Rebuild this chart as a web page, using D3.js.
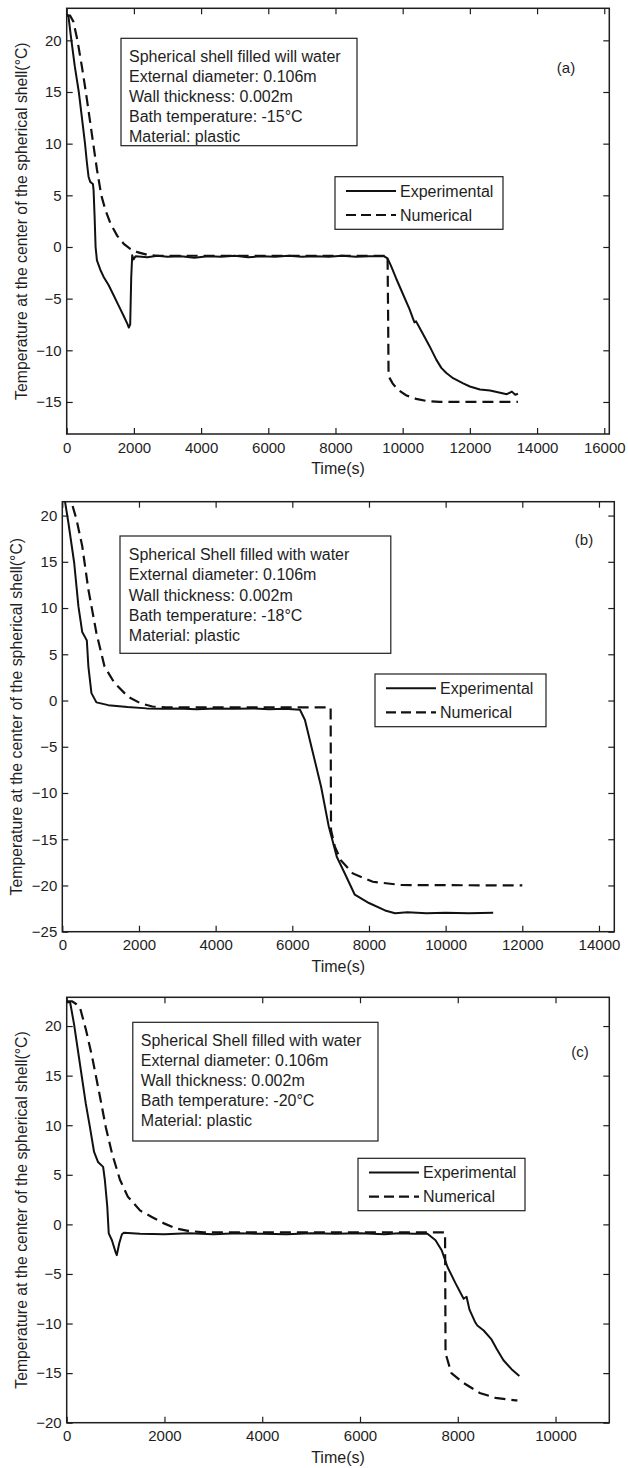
<!DOCTYPE html>
<html lang="en">
<head>
<meta charset="utf-8">
<title>Temperature at the center of the spherical shell</title>
<script src="https://cdn.jsdelivr.net/npm/d3@7"></script>
<style>
  body { margin: 0; background: #fff; }
  svg text { font-family: "Liberation Sans", Arial, sans-serif; fill: #1e1e1e; }
</style>
</head>
<body>
<svg id="chart" width="628" height="1468"></svg>
<script>

// ---- data: [time (s), temperature (°C)] ----

var expA = [[0,22.5],[50,22.4],[120,20.5],[240,17.5],[360,15],[450,12.6],[545,10],[600,8.2],[650,6.8],[700,6.3],[780,6.1],[800,5.5],[830,3],[860,0],[900,-1.3],[1000,-2.2],[1100,-2.9],[1250,-3.7],[1400,-4.7],[1550,-5.7],[1700,-6.7],[1800,-7.4],[1850,-7.8],[1890,-7.5],[1920,-3],[1950,-0.8],[1990,-1.2],[2050,-0.9],[2400,-1.0],[2700,-0.85],[3000,-0.95],[3400,-0.9],[3800,-1.05],[4200,-0.9],[4600,-0.95],[5000,-0.85],[5400,-1.0],[5800,-0.9],[6200,-0.95],[6600,-0.85],[7000,-0.95],[7400,-0.9],[7800,-0.95],[8200,-0.85],[8600,-0.95],[9000,-0.9],[9450,-0.9],[9550,-1.1],[9650,-1.8],[9800,-3],[10000,-4.5],[10200,-6],[10350,-7.3],[10400,-7.2],[10450,-7.5],[10600,-8.4],[10800,-9.6],[11000,-10.9],[11150,-11.7],[11300,-12.2],[11500,-12.7],[11800,-13.2],[12000,-13.5],[12300,-13.8],[12600,-13.9],[12900,-14.1],[13100,-14.25],[13250,-14.0],[13350,-14.3],[13430,-14.2]];
var numA = [[0,22.4],[100,22.4],[200,21.8],[320,20],[450,17.5],[570,15],[680,12.5],[790,10],[900,7.5],[1030,5],[1150,3.6],[1300,2.3],[1500,1.1],[1700,0.3],[1900,-0.2],[2100,-0.5],[2400,-0.75],[2700,-0.85],[9550,-0.85],[9565,-6],[9580,-12.5],[9700,-13.2],[9850,-13.8],[10100,-14.35],[10400,-14.7],[10700,-14.9],[11100,-15],[13430,-15]];

var expB = [[0,22],[60,21.8],[160,19.2],[310,14.9],[420,10.2],[520,7.4],[600,6.8],[640,6.5],[680,3.7],[760,0.8],[890,-0.2],[1200,-0.5],[1700,-0.7],[2200,-0.85],[2600,-0.9],[3000,-0.85],[3500,-0.95],[4000,-0.85],[4500,-0.9],[5000,-0.85],[5400,-0.95],[5800,-0.9],[6200,-1.0],[6330,-2.1],[6540,-5.7],[6750,-9.3],[6950,-13.6],[7160,-16.9],[7370,-18.7],[7630,-21.0],[8000,-21.9],[8420,-22.7],[8680,-23.0],[9000,-22.9],[9500,-23.0],[10000,-22.95],[10600,-23.0],[11240,-22.95]];
var numB = [[0,22],[200,22],[370,19.6],[520,16.7],[680,12],[890,7.3],[1100,3.7],[1360,1.9],[1720,0.4],[2040,-0.3],[2350,-0.65],[2700,-0.75],[7000,-0.75],[7010,-14],[7110,-15.8],[7270,-17.3],[7580,-18.7],[8100,-19.6],[8840,-19.95],[12000,-20]];

var expC = [[0,22.4],[70,22.4],[150,20.2],[270,16.2],[390,12.2],[475,9.8],[560,7.3],[640,6.3],[745,5.8],[780,4.5],[830,1.8],[860,-0.9],[925,-1.6],[1000,-2.8],[1025,-3.1],[1075,-1.9],[1130,-1.0],[1170,-0.85],[1500,-0.95],[2000,-1.0],[2500,-0.9],[3000,-1.0],[3500,-0.9],[4000,-0.95],[4500,-1.0],[5000,-0.9],[5500,-0.95],[6000,-0.9],[6500,-1.0],[6800,-0.9],[7100,-0.95],[7380,-0.95],[7545,-1.6],[7670,-2.6],[7790,-4.3],[7950,-5.9],[8120,-7.5],[8180,-7.3],[8240,-8.6],[8360,-9.9],[8400,-10.2],[8530,-10.7],[8690,-11.6],[8800,-12.6],[8935,-13.7],[9100,-14.6],[9260,-15.3]];
var numC = [[0,22.5],[110,22.5],[200,22.2],[270,21.9],[395,19.6],[520,16.9],[680,12.9],[800,9.8],[930,7.1],[1090,4.5],[1250,2.8],[1500,1.4],[1740,0.75],[1990,0.1],[2230,-0.4],[2480,-0.65],[2800,-0.8],[7740,-0.8],[7750,-13],[7870,-15],[8120,-16],[8450,-17],[8770,-17.5],[9180,-17.75],[9220,-17.75]];

// tick values
var xTicksA = [0,2000,4000,6000,8000,10000,12000,14000,16000];
var yTicksA = [-15,-10,-5,0,5,10,15,20];
var xTicksB = [0,2000,4000,6000,8000,10000,12000,14000];
var yTicksB = [-25,-20,-15,-10,-5,0,5,10,15,20];
var xTicksC = [0,2000,4000,6000,8000,10000];
var yTicksC = [-20,-15,-10,-5,0,5,10,15,20];

// texts
var infoA = ["Spherical shell filled will water","External diameter: 0.106m","Wall thickness: 0.002m","Bath temperature: -15\u00B0C","Material: plastic"];
var infoB = ["Spherical Shell filled with water","External diameter: 0.106m","Wall thickness: 0.002m","Bath temperature: -18\u00B0C","Material: plastic"];
var infoC = ["Spherical Shell filled with water","External diameter: 0.106m","Wall thickness: 0.002m","Bath temperature: -20\u00B0C","Material: plastic"];
var seriesNames = ["Experimental","Numerical"];
var xTitle = "Time(s)";
var yTitle = "Temperature at the center of the spherical shell(\u00B0C)";

// ---- layout of each panel (pixels) ----
var panels = [
  {tag:"(a)", exp:expA, num:numA, info:infoA, xTicks:xTicksA, yTicks:yTicksA,
   xDom:[0,16150], yDom:[-18.1,23.1],
   L:66.7, R:609.3, T:8.3, B:434,
   box:{x:121, y:38.3, w:236, h:107.4, tx:129, dy:20},
   tagPos:[566,68], leg:{x:335, y:176.7, w:168, h:52.6}},
  {tag:"(b)", exp:expB, num:numB, info:infoB, xTicks:xTicksB, yTicks:yTicksB,
   xDom:[0,14400], yDom:[-25,21.5],
   L:62.3, R:614.3, T:501.7, B:931.7,
   box:{x:120, y:536, w:270.8, h:117.3, tx:128.8, dy:20.2},
   tagPos:[584,540], leg:{x:375, y:674, w:171, h:52.7}},
  {tag:"(c)", exp:expC, num:numC, info:infoC, xTicks:xTicksC, yTicks:yTicksC,
   xDom:[0,11100], yDom:[-20,22.9],
   L:66.7, R:609.3, T:997.3, B:1422.7,
   box:{x:132.8, y:1022.3, w:245.2, h:118.7, tx:140.8, dy:19.8},
   tagPos:[580,1051.7], leg:{x:358, y:1158.3, w:167, h:52.4}}
];

var svg = d3.select("#chart");
var ink = "#1e1e1e";
var dash = "11,6";

function drawPanel(p, i) {
  var x = d3.scaleLinear().domain(p.xDom).range([p.L, p.R]);
  var y = d3.scaleLinear().domain(p.yDom).range([p.B, p.T]);
  var g = svg.append("g");

  g.append("clipPath").attr("id", "clip" + i)
    .append("rect").attr("x", p.L).attr("y", p.T)
    .attr("width", p.R - p.L).attr("height", p.B - p.T);

  // axes, ticks pointing inward on all four sides
  var ax = [
    [d3.axisBottom(x).tickValues(p.xTicks).tickFormat(d3.format("d")), "translate(0," + p.B + ")"],
    [d3.axisTop(x).tickValues(p.xTicks).tickFormat(""), "translate(0," + p.T + ")"],
    [d3.axisLeft(y).tickValues(p.yTicks).tickFormat(d3.format("d")), "translate(" + p.L + ",0)"],
    [d3.axisRight(y).tickValues(p.yTicks).tickFormat(""), "translate(" + p.R + ",0)"]
  ];
  ax.forEach(function(a, k) {
    var ag = g.append("g").attr("transform", a[1])
      .call(a[0].tickSizeInner(-6).tickSizeOuter(0).tickPadding(k < 2 ? 8 : 5));
    ag.select(".domain").remove();
    ag.selectAll("line").attr("stroke", ink).attr("stroke-width", 1.2);
    ag.selectAll("text").attr("font-size", 15).attr("fill", ink)
      .attr("font-family", "'Liberation Sans', Arial, sans-serif");
  });

  g.append("rect").attr("x", p.L).attr("y", p.T)
    .attr("width", p.R - p.L).attr("height", p.B - p.T)
    .attr("fill", "none").attr("stroke", ink).attr("stroke-width", 1.5);

  g.append("text").attr("x", (p.L + p.R) / 2).attr("y", p.B + 40)
    .attr("text-anchor", "middle").attr("font-size", 16).text(xTitle);

  g.append("text")
    .attr("transform", "translate(" + (p.L - 40) + "," + ((p.T + p.B) / 2) + ") rotate(-90)")
    .attr("text-anchor", "middle").attr("font-size", 15.8).text(yTitle);

  // curves
  var line = d3.line().x(function(d) { return x(d[0]); }).y(function(d) { return y(d[1]); });
  var curves = g.append("g").attr("clip-path", "url(#clip" + i + ")");
  curves.append("path").datum(p.num).attr("d", line)
    .attr("fill", "none").attr("stroke", "#111").attr("stroke-width", 2.2)
    .attr("stroke-dasharray", dash);
  curves.append("path").datum(p.exp).attr("d", line)
    .attr("fill", "none").attr("stroke", "#111").attr("stroke-width", 2)
    .attr("stroke-linejoin", "round");

  // info box
  var b = p.box;
  g.append("rect").attr("x", b.x).attr("y", b.y).attr("width", b.w).attr("height", b.h)
    .attr("fill", "#fff").attr("stroke", ink).attr("stroke-width", 1.2);
  g.selectAll(".info").data(p.info).enter().append("text")
    .attr("x", b.tx).attr("y", function(d, k) { return b.y + 18.5 + k * b.dy; })
    .attr("dy", "0.35em").attr("font-size", 16).text(function(d) { return d; });

  g.append("text").attr("x", p.tagPos[0]).attr("y", p.tagPos[1]).attr("dy", "0.35em")
    .attr("text-anchor", "middle").attr("font-size", 15).text(p.tag);

  // legend
  var l = p.leg;
  g.append("rect").attr("x", l.x).attr("y", l.y).attr("width", l.w).attr("height", l.h)
    .attr("fill", "#fff").attr("stroke", ink).attr("stroke-width", 1.2);
  seriesNames.forEach(function(name, k) {
    var ly = l.y + 14.3 + k * 24;
    g.append("line").attr("x1", l.x + 11).attr("x2", l.x + 61).attr("y1", ly).attr("y2", ly)
      .attr("stroke", "#111").attr("stroke-width", k ? 2.2 : 2)
      .attr("stroke-dasharray", k ? "10,5" : null);
    g.append("text").attr("x", l.x + 65).attr("y", ly).attr("dy", "0.35em")
      .attr("font-size", 16).text(name);
  });
}

panels.forEach(drawPanel);

</script>
</body>
</html>
